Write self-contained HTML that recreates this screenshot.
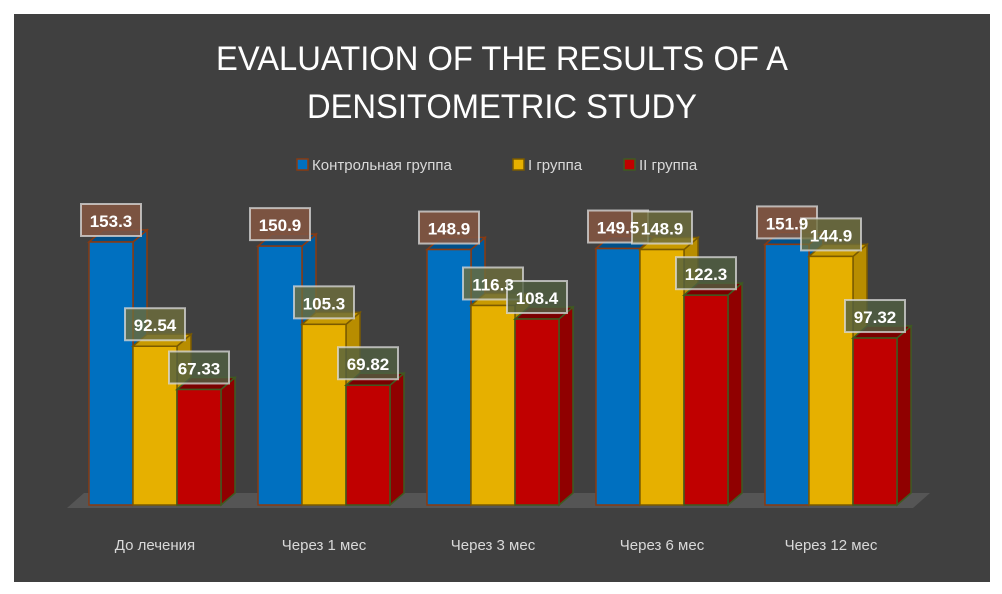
<!DOCTYPE html>
<html><head><meta charset="utf-8"><style>
html,body{margin:0;padding:0;background:#fff;}
#wrap{position:relative;width:1002px;height:594px;background:#fff;}
svg{position:absolute;left:0;top:0;}
</style></head><body>
<div id="wrap">
<svg id="chart" width="1002" height="594" xmlns="http://www.w3.org/2000/svg">
<rect x="14" y="14" width="976" height="568" fill="#404040"/>
<text x="502" y="70" text-anchor="middle" font-family="Liberation Sans, sans-serif" font-size="34" fill="#ffffff" textLength="572" lengthAdjust="spacingAndGlyphs">EVALUATION OF THE RESULTS OF A</text>
<text x="502" y="118" text-anchor="middle" font-family="Liberation Sans, sans-serif" font-size="34" fill="#ffffff" textLength="390" lengthAdjust="spacingAndGlyphs">DENSITOMETRIC STUDY</text>
<polygon points="67,508 913,508 930,493 84,493" fill="#555555"/>
<g id="legend"></g>
<g id="bars"></g>
<g id="labelBoxes"></g>
<g id="labels"></g>
<g id="cats"></g>
</svg>
</div>
<script>
const categories = ["До лечения","Через 1 мес","Через 3 мес","Через 6 мес","Через 12 мес"];
const seriesNames = ["Контрольная группа","I группа","II группа"];
const controlValues = [153.3,150.9,148.9,149.5,151.9];
const group1Values = [92.54,105.3,116.3,148.9,144.9];
const group2Values = [67.33,69.82,108.4,122.3,97.32];
const labelTexts = [
  ["153.3","150.9","148.9","149.5","151.9"],
  ["92.54","105.3","116.3","148.9","144.9"],
  ["67.33","69.82","108.4","122.3","97.32"]
];
const NS="http://www.w3.org/2000/svg";
const series=[controlValues,group1Values,group2Values];
const front=["#0070c0","#e6b000","#c00000"];
const side=["#005a9a","#b88d00","#900000"];
const top_=["#004f88","#c89a00","#7a0000"];
const edge=["#8b3a10","#7a5a00","#3f5a20"];
const lblFill=["rgba(130,85,65,0.9)","rgba(110,110,60,0.8)","rgba(80,95,65,0.8)"];
const baseY=505, scale=263/153.3, x0=89, groupStep=169, barW=44, dx=14, dy=12;
function yScale(v){return baseY - v*scale;}
function xBar(g,s){return x0+g*groupStep+s*barW;}
function mk(tag,attrs,parent){const e=document.createElementNS(NS,tag);for(const k in attrs)e.setAttribute(k,attrs[k]);parent.appendChild(e);return e;}
const bars=document.getElementById('bars'),labels=document.getElementById('labels'),boxes=document.getElementById('labelBoxes'),cats=document.getElementById('cats'),legend=document.getElementById('legend');
for(let g=0;g<categories.length;g++){
  for(let s=0;s<3;s++){
    const v=series[s][g],x=xBar(g,s),y=yScale(v);
    const grp=mk('g',{},bars);
    
    
    mk('polygon',{points:`${x+barW},${y} ${x+barW+dx},${y-dy} ${x+barW+dx},${baseY-dy} ${x+barW},${baseY}`,fill:side[s],stroke:edge[s],'stroke-width':1.5},grp);
    mk('polygon',{points:`${x},${y} ${x+dx},${y-dy} ${x+barW+dx},${y-dy} ${x+barW},${y}`,fill:top_[s],stroke:edge[s],'stroke-width':1.5},grp);
    mk('rect',{x:x,y:y,width:barW,height:baseY-y,fill:front[s],stroke:edge[s],'stroke-width':1.5},grp);
  }
}
for(let g=0;g<categories.length;g++){
  for(let s=0;s<3;s++){
    const v=series[s][g],cx=xBar(g,s)+barW/2,y=yScale(v);
    const r=mk('rect',{x:cx-30,y:y-38,width:60,height:32,fill:lblFill[s],stroke:'rgba(220,220,220,0.75)','stroke-width':2},boxes);
    
    
    const t=mk('text',{x:cx,y:y-15,'text-anchor':'middle','font-family':'Liberation Sans, sans-serif','font-size':17,'font-weight':'bold',fill:'#fff'},labels);
    
    
    t.textContent=labelTexts[s][g];
  }
  const t=mk('text',{x:x0+g*groupStep+66,y:550,'text-anchor':'middle','font-family':'Liberation Sans, sans-serif','font-size':15,fill:'#d9d9d9'},cats);
  
  
  t.textContent=categories[g];
}
const legX=[297,513,624];
for(let s=0;s<3;s++){
  const lg=mk('g',{},legend);
  
  
  mk('rect',{x:legX[s],y:159,width:11,height:11,fill:front[s],stroke:edge[s],'stroke-width':1.5},lg);
  const t=mk('text',{x:legX[s]+15,y:170,'font-family':'Liberation Sans, sans-serif','font-size':15,fill:'#d9d9d9'},lg);
  t.textContent=seriesNames[s];
}
</script>
</body></html>
